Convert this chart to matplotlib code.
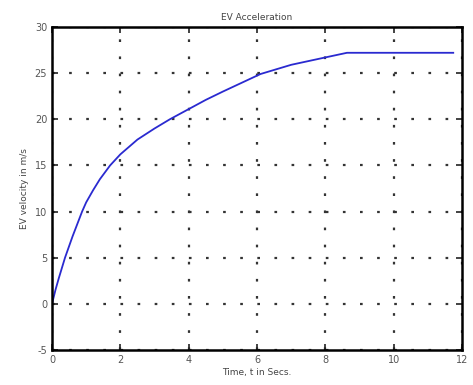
import matplotlib
matplotlib.use("Agg")
import matplotlib.pyplot as plt

plt.rcParams["axes.unicode_minus"] = False

t = [0, 0.1, 0.2, 0.38, 0.6, 0.88, 1.0, 1.2, 1.4, 1.7, 2.0, 2.5, 3.0, 3.45,
     4.0, 4.5, 5.0, 6.1, 7.0, 7.5, 8.0, 8.63, 11.74]
v = [0, 1.5, 2.8, 5.0, 7.3, 10.0, 11.0, 12.3, 13.5, 15.0, 16.2, 17.8, 19.0, 20.0,
     21.1, 22.1, 23.0, 24.9, 25.9, 26.3, 26.7, 27.2, 27.2]
xticks = [0, 2, 4, 6, 8, 10, 12]
yticks = [-5, 0, 5, 10, 15, 20, 25, 30]

fig = plt.figure(figsize=(4.73, 3.85), dpi=100)
ax = fig.add_axes([0.110, 0.091, 0.867, 0.839])
ax.plot(t, v, color="#2a2ad0", lw=1.3)
ax.set_xlim(0, 12)
ax.set_ylim(-5, 30)
ax.set_xticks(xticks)
ax.set_yticks(yticks)
ax.grid(True, color="#333333", linestyle=(0, (1.2, 6.5)), lw=1.6)
ax.tick_params(direction="in", top=True, right=True, length=4, width=1.2,
               labelsize=7, colors="#222222")
ax.tick_params(labelcolor="#555555")
for s in ax.spines.values():
    s.set_linewidth(1.8)
ax.set_title("EV Acceleration", fontsize=6.5, color="#444444", pad=5)
ax.set_xlabel("Time, t in Secs.", fontsize=6.5, color="#444444", labelpad=2)
ax.set_ylabel("EV velocity in m/s", fontsize=6.5, color="#444444", labelpad=4)
fig.savefig("out.png", dpi=100)
